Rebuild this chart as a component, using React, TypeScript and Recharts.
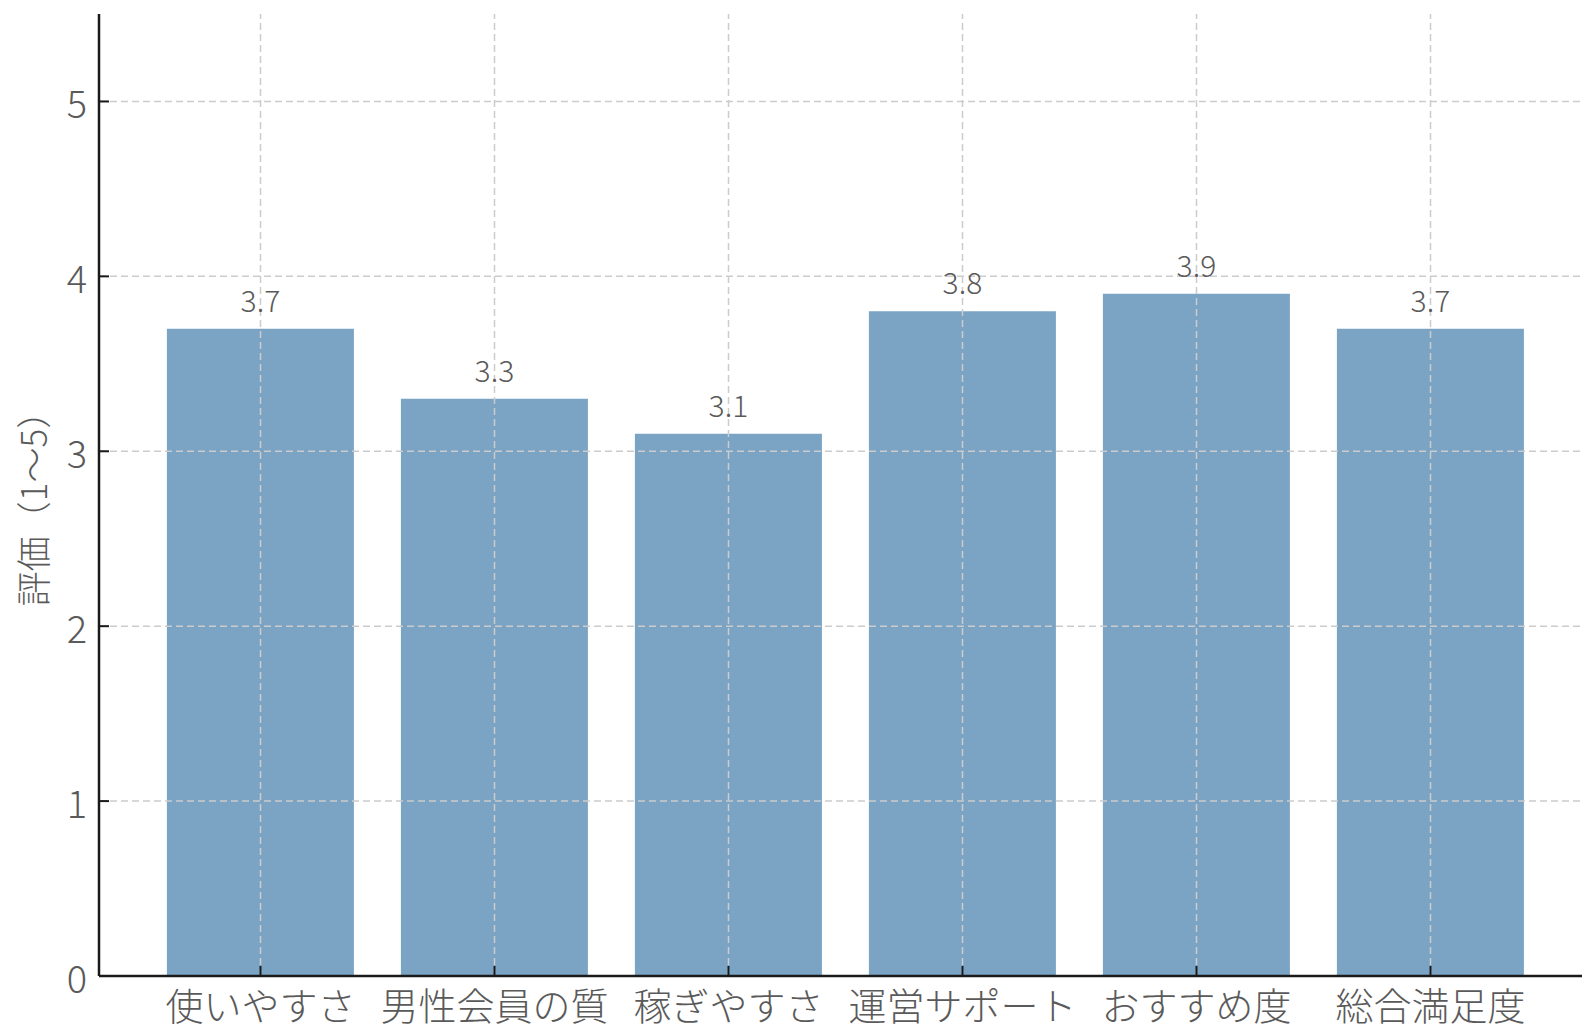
import React from 'react';
import { BarChart, Bar, XAxis, YAxis, ReferenceLine, LabelList } from 'recharts';

const categories = ['使いやすさ', '男性会員の質', '稼ぎやすさ', '運営サポート', 'おすすめ度', '総合満足度'];
const scores = [3.7, 3.3, 3.1, 3.8, 3.9, 3.7];
const yTicks = [0, 1, 2, 3, 4, 5];
const gridY = [1, 2, 3, 4, 5];
const yLabel = '評価（1〜5）';

const data = categories.map((c, i) => ({ name: c, value: scores[i] }));

const FONT = "'Noto Sans CJK JP Light', 'Noto Sans CJK JP DemiLight', 'Noto Sans CJK JP', 'Noto Sans', sans-serif";
const AXIS = '#1a1a1a';
const TXT = '#5a5a5a';
const GRID = '#cccccc';

const YTick = (props: any) => {
  const { x, y, payload } = props;
  return (
    <g>
      <line x1={x} x2={x + 10} y1={y} y2={y} stroke={AXIS} strokeWidth={2} />
      <text x={x - 12} y={y} textAnchor="end" dominantBaseline="central" fontSize={38} fill={TXT} fontFamily={FONT} fontWeight={300}>
        {payload.value}
      </text>
    </g>
  );
};

const XTick = (props: any) => {
  const { x, y, payload } = props;
  return (
    <g>
      <line x1={x} x2={x} y1={y} y2={y - 10} stroke={AXIS} strokeWidth={2} />
      <text x={x} y={y + 44} textAnchor="middle" fontSize={38} fill={TXT} fontFamily={FONT} fontWeight={300}>
        {payload.value}
      </text>
    </g>
  );
};

export default function App() {
  return (
    <div style={{ position: 'absolute', left: 0, top: 0, width: 1582, height: 1026, overflow: 'hidden', background: '#fff' }}>
      <BarChart
        width={1600}
        height={1026}
        data={data}
        margin={{ top: 14, right: 8, bottom: 0, left: 0 }}
        barCategoryGap="10%"
      >
        <XAxis
          dataKey="name"
          type="category"
          height={50}
          padding={{ left: 44.5, right: 44.5 }}
          tick={<XTick />}
          tickLine={false}
          tickSize={0}
          tickMargin={0}
          axisLine={{ stroke: AXIS, strokeWidth: 2.5 }}
          interval={0}
        />
        <YAxis
          type="number"
          domain={[0, 5.5]}
          ticks={yTicks}
          width={99}
          tick={<YTick />}
          tickLine={false}
          tickSize={0}
          tickMargin={0}
          axisLine={{ stroke: AXIS, strokeWidth: 2.5 }}
          allowDataOverflow
        />
        <Bar dataKey="value" fill="#7aa3c4" isAnimationActive={false}>
          <LabelList dataKey="value" position="top" offset={17} fontSize={30} fill={TXT} fontFamily={FONT} fontWeight={300} />
        </Bar>
        {gridY.map((v) => (
          <ReferenceLine key={'h' + v} y={v} stroke={GRID} strokeWidth={1.5} strokeDasharray="7 4" />
        ))}
        {categories.map((c) => (
          <ReferenceLine key={'v' + c} x={c} stroke={GRID} strokeWidth={1.5} strokeDasharray="7 4" />
        ))}
      </BarChart>
      <svg style={{ position: 'absolute', left: 0, top: 0 }} width={80} height={1026}>
        <text
          x={0}
          y={0}
          transform="translate(31 500) rotate(-90)"
          textAnchor="middle"
          dominantBaseline="central"
          fontSize={35}
          fill={TXT}
          fontFamily={FONT}
          fontWeight={300}
        >
          {yLabel}
        </text>
      </svg>
    </div>
  );
}
